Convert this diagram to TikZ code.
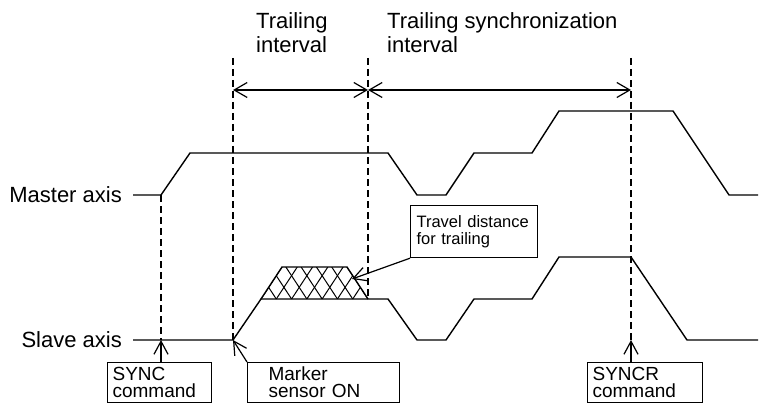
\documentclass[tikz,border=0pt]{standalone}
\usepackage{fontspec}
\setmainfont{Liberation Sans}
\usepackage{tikz}
\usetikzlibrary{arrows.meta,positioning}
\tikzstyle{axislabel}=[font=\fontsize{22}{24}\selectfont, inner sep=3pt]
\tikzstyle{toplabel}=[font=\fontsize{22}{24}\selectfont, align=left, anchor=north west, inner sep=3pt]
\tikzstyle{cmdbox}=[rectangle, draw=black, line width=1.2pt, font=\fontsize{19}{17}\selectfont,
        align=left, anchor=north west, minimum height=40pt, inner xsep=5pt]
\tikzstyle{notebox}=[rectangle, draw=black, line width=1.2pt, font=\fontsize{16.5}{17}\selectfont,
        align=left, anchor=north west, minimum height=52pt, inner xsep=6pt]
\tikzstyle{wave}=[line width=1.4pt, line join=miter]
\tikzstyle{guide}=[line width=1.8pt, dash pattern=on 7pt off 4pt]
\tikzstyle{interval}=[line width=1.2pt, {Straight Barb[length=13pt,width=15pt]}-{Straight Barb[length=13pt,width=15pt]}]
\tikzstyle{pointer}=[line width=1.2pt, -{Straight Barb[length=13pt,width=14pt]}]
\tikzstyle{hatch}=[line width=1pt]
\begin{document}
\begin{tikzpicture}[x=1pt,y=-1pt]
\useasboundingbox (0,0) rectangle (768,409);
% key points
\coordinate (m0) at (133,195);
\coordinate (s0) at (133,340);
\coordinate (synct) at (161,195);
\coordinate (syncb) at (161,340);
\coordinate (markt) at (233,58);
\coordinate (markb) at (233,340);
\coordinate (trailt) at (368,58);
\coordinate (trailb) at (368,299);
\coordinate (syncrt) at (631,58);
\coordinate (syncrb) at (631,340);
\coordinate (ia) at (233,90);
\coordinate (ib) at (368,90);
\coordinate (ic) at (631,90);
\coordinate (h1) at (261,299);
\coordinate (h2) at (282,267);
\coordinate (h3) at (347,267);
\coordinate (h4) at (368,299);
\coordinate (hp) at (352,279);
% labels
\node [axislabel, left=8pt of m0] (master) {Master axis};
\node [axislabel, left=8pt of s0] (slave) {Slave axis};
\node [toplabel] (trail) at (253,9) {Trailing\\interval};
\node [toplabel] (trailsync) at (384,9) {Trailing synchronization\\interval};
% waveforms
\draw [wave] (m0) -- (synct) -- (190,153) -- (388,153) -- (417,195) -- (446,195) -- (474,153)
  -- (532,153) -- (559,111) -- (673,111) -- (729,195) -- (758,195);
\draw [wave] (s0) -- (markb) -- (h1) -- (388,299) -- (417,340) -- (446,340) -- (474,299)
  -- (532,299) -- (559,257) -- (631,257) -- (687,340) -- (758,340);
% travel distance for trailing
\begin{scope}
\clip (h1) -- (h2) -- (h3) -- (h4) -- cycle;
\foreach \k in {-3,...,9} {
  \draw [hatch] ({261+\k*15.286},299) -- ++(21,-32);
  \draw [hatch] ({261+\k*15.286},299) -- ++(-21,-32);
}
\end{scope}
\draw [wave] (h1) -- (h2) -- (h3) -- (h4);
% guide lines
\draw [guide] (synct) -- (syncb);
\draw [guide] (markt) -- (markb);
\draw [guide] (trailt) -- (trailb);
\draw [guide] (syncrt) -- (syncrb);
\draw [interval] (ia) -- (ib);
\draw [interval] (ib) -- (ic);
% boxes
\node [cmdbox, minimum width=104pt, text width=94pt] (sync) at (107,362) {SYNC\\command};
\node [cmdbox, minimum width=152pt, text width=110pt] (marker) at (247,362) {Marker\\sensor ON};
\node [cmdbox, minimum width=115pt, text width=105pt] (syncr) at (587,362) {SYNCR\\command};
\node [notebox, minimum width=127pt, text width=115pt] (travel) at (410,205) {Travel distance\\for trailing};
\draw [pointer] (sync.north -| syncb) -- (syncb);
\draw [pointer] (marker.north west) -- (markb);
\draw [pointer] (syncr.north -| syncrb) -- (syncrb);
\draw [pointer] (travel.south west) -- (hp);
\end{tikzpicture}
\end{document}
